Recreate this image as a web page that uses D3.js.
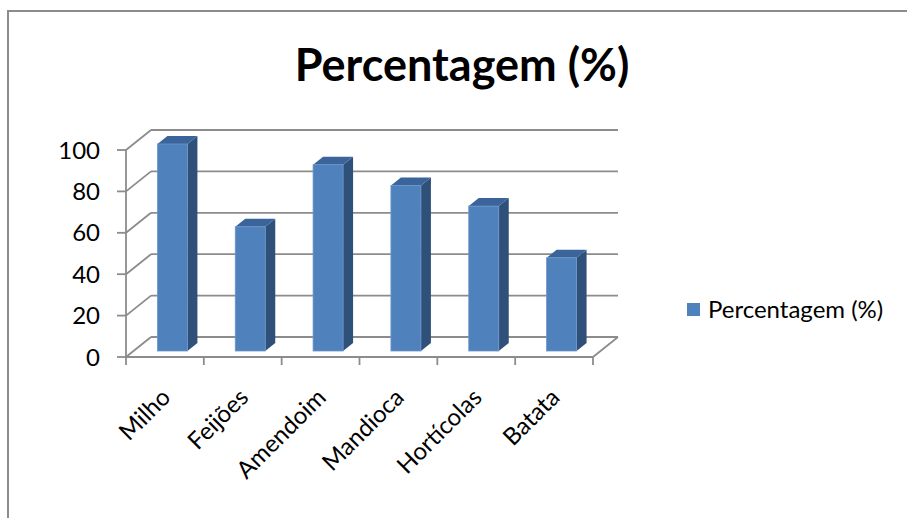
<!DOCTYPE html>
<html>
<head>
<meta charset="utf-8">
<script src="https://cdn.jsdelivr.net/npm/d3@7"></script>
<style>
  body { margin: 0; background: #fff; }
  text { font-family: Lato, "Open Sans", sans-serif; fill: #000; }
</style>
</head>
<body>
<div id="chart"></div>
<script>
// data
const categories = ['Milho', 'Feijões', 'Amendoim', 'Mandioca', 'Hortícolas', 'Batata'];
const values = [100, 60, 90, 80, 70, 45];
const yTicks = [0, 20, 40, 60, 80, 100];
const seriesName = 'Percentagem (%)';
const title = 'Percentagem (%)';

const W = 907, H = 518;
const depthX = 25, depthY = -20;   // back wall offset

const svg = d3.select('#chart').append('svg')
    .attr('width', W)
    .attr('height', H);

// outer frame (only top and left edges are visible)
svg.append('path')
    .attr('d', 'M8,520 L8,11 L910,11')
    .attr('fill', 'none')
    .attr('stroke', '#8c8c8c')
    .attr('stroke-width', 2);

const x = d3.scaleBand()
    .domain(categories)
    .range([126, 593]);

const y = d3.scaleLinear()
    .domain([0, 100])
    .range([357, 150]);

// project a point at a given depth (0 = front, 1 = back wall)
const px = (xv, d) => xv + depthX * d;
const py = (yv, d) => yv + depthY * d;

const gridColor = '#8c8c8c';
const grid = svg.append('g')
    .attr('stroke', gridColor)
    .attr('stroke-width', 1.8)
    .attr('fill', 'none');

// back wall gridlines + side wall diagonals
yTicks.forEach(t => {
    grid.append('line')
        .attr('x1', px(126, 1)).attr('y1', py(y(t), 1))
        .attr('x2', px(593, 1)).attr('y2', py(y(t), 1));
    grid.append('line')
        .attr('x1', 126).attr('y1', y(t))
        .attr('x2', px(126, 1)).attr('y2', py(y(t), 1));
});

// floor: front edge and right diagonal
grid.append('line')
    .attr('x1', 126).attr('y1', y(0))
    .attr('x2', 593).attr('y2', y(0));
grid.append('line')
    .attr('x1', 593).attr('y1', y(0))
    .attr('x2', px(593, 1)).attr('y2', py(y(0), 1));

// vertical axis
grid.append('line')
    .attr('x1', 126).attr('y1', y(100))
    .attr('x2', 126).attr('y2', y(0));

// value ticks and labels
yTicks.forEach(t => {
    grid.append('line')
        .attr('x1', 117).attr('y1', y(t))
        .attr('x2', 126).attr('y2', y(t));
    svg.append('text')
        .attr('x', 100)
        .attr('y', y(t))
        .attr('dy', '0.36em')
        .attr('text-anchor', 'end')
        .attr('font-size', 24)
        .text(t);
});

// category ticks
const bounds = categories.map(c => x(c)).concat([x.range()[1]]);
bounds.forEach(b => {
    grid.append('line')
        .attr('x1', b).attr('y1', y(0))
        .attr('x2', b).attr('y2', y(0) + 8);
});

// bars (3d boxes)
const barW = 30, d0 = 0.3, d1 = 0.7;
const bars = svg.append('g');
categories.forEach((c, i) => {
    const v = values[i];
    const cx = x(c) + x.bandwidth() / 2;
    const fx0 = px(cx - barW / 2, d0), fx1 = px(cx + barW / 2, d0);
    const fyTop = py(y(v), d0), fyBot = py(y(0), d0);
    const bdx = depthX * (d1 - d0), bdy = depthY * (d1 - d0);

    // side face
    bars.append('path')
        .attr('d', `M${fx1},${fyBot} L${fx1 + bdx},${fyBot + bdy} L${fx1 + bdx},${fyTop + bdy} L${fx1},${fyTop} Z`)
        .attr('fill', '#2f5079');
    // top face
    bars.append('path')
        .attr('d', `M${fx0},${fyTop} L${fx0 + bdx},${fyTop + bdy} L${fx1 + bdx},${fyTop + bdy} L${fx1},${fyTop} Z`)
        .attr('fill', '#3b649a');
    // front face
    bars.append('rect')
        .attr('x', fx0)
        .attr('y', fyTop)
        .attr('width', barW)
        .attr('height', fyBot - fyTop)
        .attr('fill', '#4f81bd')
        .attr('stroke', '#6b96cb')
        .attr('stroke-width', 0.8);
});

// category labels (rotated)
categories.forEach(c => {
    const cx = x(c) + x.bandwidth() / 2;
    svg.append('text')
        .attr('transform', `translate(${cx + 7},${y(0) + 42}) rotate(-45)`)
        .attr('text-anchor', 'end')
        .attr('font-size', 24)
        .text(c);
});

// title
svg.append('text')
    .attr('x', 462)
    .attr('y', 81)
    .attr('text-anchor', 'middle')
    .attr('font-size', 45)
    .attr('font-weight', 'bold')
    .text(title);

// legend
svg.append('rect')
    .attr('x', 687)
    .attr('y', 303)
    .attr('width', 13)
    .attr('height', 13)
    .attr('fill', '#4f81bd');
svg.append('text')
    .attr('x', 708)
    .attr('y', 318)
    .attr('font-size', 24)
    .text(seriesName);
</script>
</body>
</html>
